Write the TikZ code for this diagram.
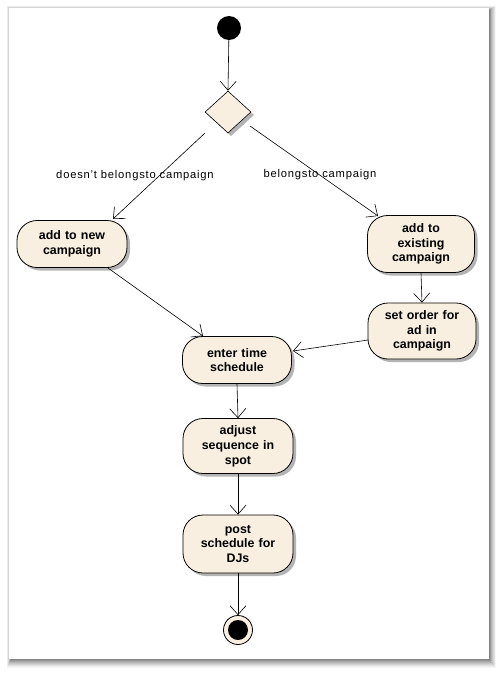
\documentclass[tikz,border=0pt]{standalone}
\usepackage{fontspec}
\setmainfont{Liberation Sans}
\usetikzlibrary{shapes.geometric,arrows.meta}
\definecolor{actfill}{HTML}{F8EFE0}
\definecolor{shadowc}{HTML}{B4B4B4}
\tikzset{
  act/.style={draw=black, line width=0.8pt, fill=actfill, rounded corners=20pt,
    align=center, font=\bfseries\fontsize{12.4}{14.8}\selectfont,
    inner sep=2pt},
  actshadow/.style={fill=shadowc, rounded corners=20pt, inner sep=0pt},
  flow/.style={draw=black, line width=0.6pt, -{Straight Barb[length=9pt,width=16pt,line width=0.6pt]}},
  lbl/.style={font=\fontsize{11.2}{12}\selectfont\addfontfeatures{LetterSpace=7}, inner sep=0pt},
}
\newcommand{\actnode}[5]{%
  \node[actshadow, minimum width=#4, minimum height=#5, xshift=3pt, yshift=-3pt] at (#2) {};
  \node[act, minimum width=#4, minimum height=#5, text width=#4-8pt] (#1) at (#2) {#3};
}
\begin{document}
\begin{tikzpicture}[x=1pt,y=-1pt]
\useasboundingbox (0,0) rectangle (503,673);
% page with shadow
\foreach \d/\o in {9/0.03,8/0.04,7/0.05,6/0.06,5/0.07,4/0.08,3/0.09,2/0.10,1/0.12}{
  \fill[black,opacity=\o] (9-\d*0.5+2,8-\d*0.5+2) rectangle (489+\d*0.8,659+\d);
}
\fill[white] (9,8) rectangle (489,659);

% start node
\node[circle, fill=black, minimum size=24pt, inner sep=0pt] (start) at (229,28) {};
% decision
\fill[shadowc] (231,95) -- (254,115) -- (231,136) -- (208,115) -- cycle;
\node[diamond, draw=black, fill=actfill, line width=0.6pt, minimum width=46pt, minimum height=42pt, inner sep=0pt] (dec) at (228,112) {};

% activities
\actnode{newc}{72,244}{add to new\\campaign}{110pt}{47pt}
\actnode{exist}{421,244}{add to\\existing\\campaign}{107pt}{57pt}
\actnode{order}{422,331}{set order for\\ad in\\campaign}{108pt}{56pt}
\actnode{enter}{237,360}{enter time\\schedule}{109pt}{47pt}
\actnode{adjust}{238,446}{adjust\\sequence in\\spot}{110pt}{55pt}
\actnode{post}{238,544}{post\\schedule for\\DJs}{110pt}{58pt}

% final node
\node[circle, draw=black, line width=0.8pt, fill=actfill, minimum size=29pt, inner sep=0pt] (final) at (238,630) {};
\node[circle, fill=black, minimum size=20pt, inner sep=0pt] (finaldot) at (final) {};

% connectors
\draw[flow] (start) -- (dec.north);
\coordinate (decl) at (205,133);
\coordinate (decr) at (250,126);
\coordinate (newt) at (113,219);
\coordinate (existt) at (378,216);
\draw[flow] (decl) -- (newt);
\draw[flow] (decr) -- (existt);
\node[lbl] (l1) at (135,176) {doesn't belongsto campaign};
\node[lbl] (l2) at (320,175) {belongsto campaign};
\coordinate (newb) at (108,268);
\coordinate (entert) at (203,336);
\draw[flow] (newb) -- (entert);
\draw[flow] (exist.south) -- (order.north);
\coordinate (orderl) at (368,340);
\coordinate (enterr) at (293,351);
\draw[flow] (orderl) -- (enterr);
\draw[flow] (enter.south) -- (adjust.north);
\draw[flow] (adjust.south) -- (post.north);
\draw[flow] (post.south) -- (final.north);
\end{tikzpicture}
\end{document}
